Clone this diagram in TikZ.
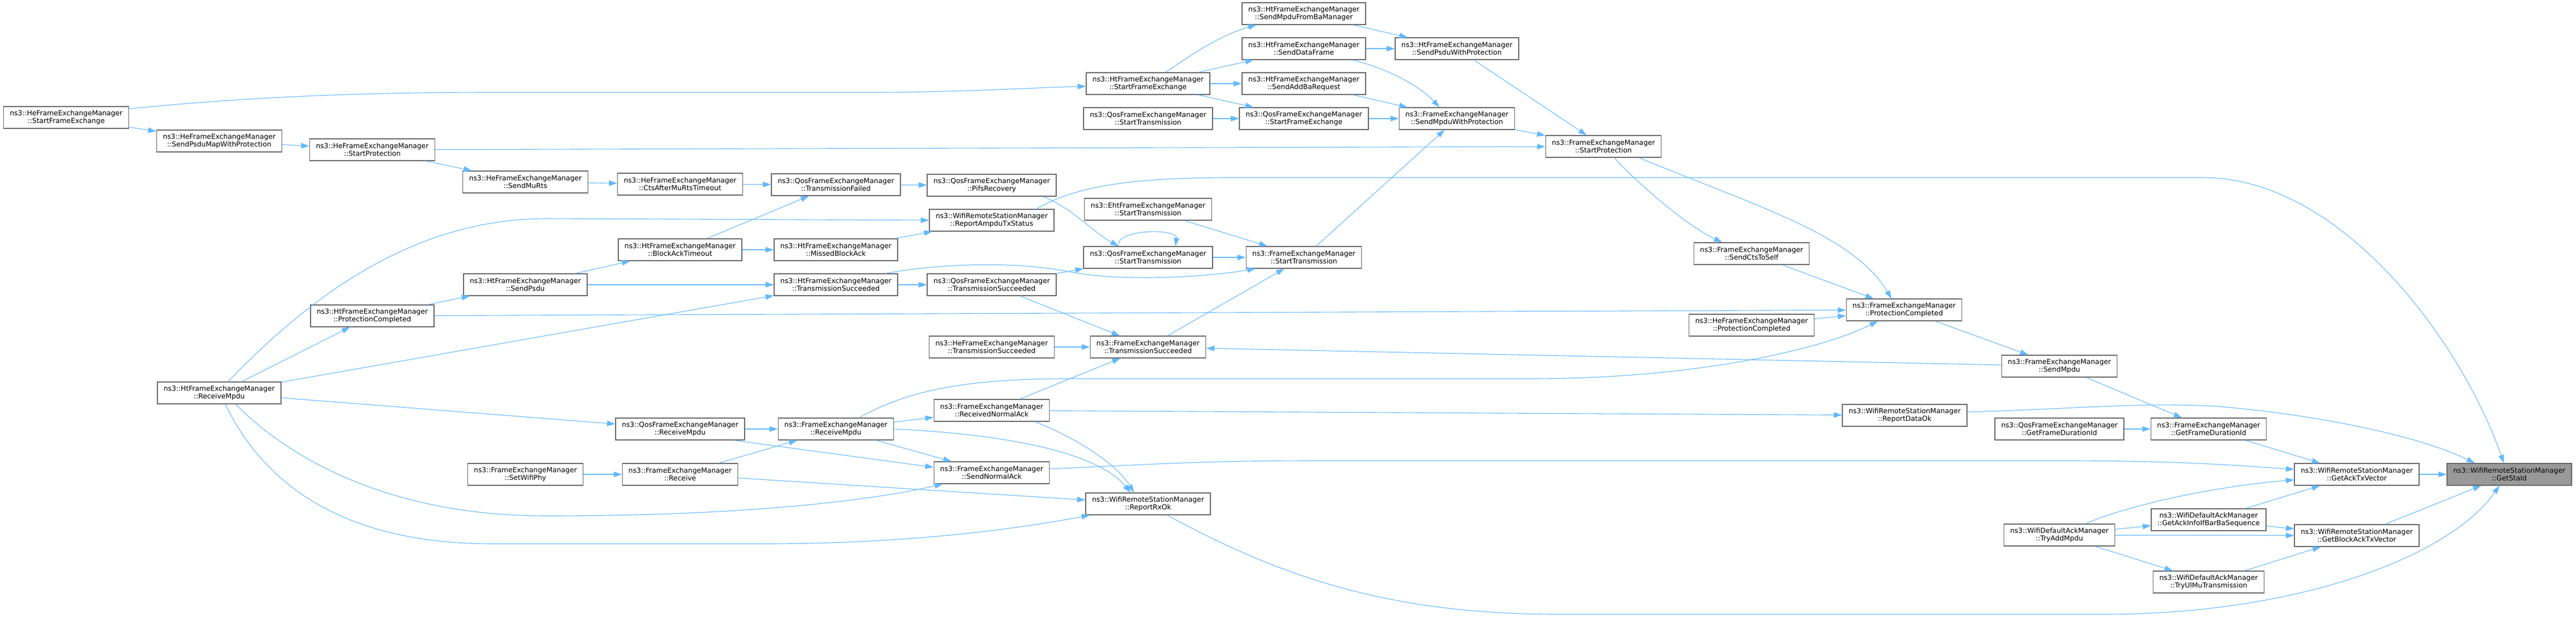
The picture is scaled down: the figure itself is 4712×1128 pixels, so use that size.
\documentclass[tikz,border=0pt]{standalone}
\usepackage{fontspec}
\setmainfont{DejaVu Sans}
\usetikzlibrary{arrows.meta}
\definecolor{edgeblue}{HTML}{63B8FF}
\definecolor{boxgray}{HTML}{666666}
\definecolor{rootgray}{HTML}{999999}
\tikzset{%
        ->,
        >={Triangle[length=15pt,width=10pt]}
}
\tikzstyle{func}=[
    draw = boxgray,
    fill = white,
    line width = 1.3pt,
    minimum height = 40pt,
    inner xsep = 11.5pt,
    inner ysep = 1pt,
    align = center,
    font = \fontsize{12.7pt}{14.3pt}\selectfont
]
\tikzstyle{every edge}=[
    draw = edgeblue,
    line width = 1.1pt
]
\tikzstyle{call}=[
    draw = edgeblue,
    line width = 1.1pt
]
\begin{document}
\begin{tikzpicture}[x=1pt, y=-1pt]
            \useasboundingbox (0,0) rectangle (4712,1128);
            \node[func] (heSFE) at (121, 215) {ns3::HeFrameExchangeManager\\::StartFrameExchange};
            \node[func] (heSPMWP) at (401, 258) {ns3::HeFrameExchangeManager\\::SendPsduMapWithProtection};
            \node[func] (htRM) at (401, 719) {ns3::HtFrameExchangeManager\\::ReceiveMpdu};
            \node[func] (heSP) at (681, 274) {ns3::HeFrameExchangeManager\\::StartProtection};
            \node[func] (htPC) at (681, 578) {ns3::HtFrameExchangeManager\\::ProtectionCompleted};
            \node[func] (heSMR) at (961, 333) {ns3::HeFrameExchangeManager\\::SendMuRts};
            \node[func] (htSP) at (961, 521) {ns3::HtFrameExchangeManager\\::SendPsdu};
            \node[func] (fSWP) at (961, 868) {ns3::FrameExchangeManager\\::SetWifiPhy};
            \node[func] (heCAMRT) at (1244, 337) {ns3::HeFrameExchangeManager\\::CtsAfterMuRtsTimeout};
            \node[func] (htBAT) at (1244, 457) {ns3::HtFrameExchangeManager\\::BlockAckTimeout};
            \node[func] (qRM) at (1244, 785) {ns3::QosFrameExchangeManager\\::ReceiveMpdu};
            \node[func] (fRecv) at (1244, 868) {ns3::FrameExchangeManager\\::Receive};
            \node[func] (qTF) at (1529, 338) {ns3::QosFrameExchangeManager\\::TransmissionFailed};
            \node[func] (htMBA) at (1529, 457) {ns3::HtFrameExchangeManager\\::MissedBlockAck};
            \node[func] (htTS) at (1529, 521) {ns3::HtFrameExchangeManager\\::TransmissionSucceeded};
            \node[func] (fRM) at (1529, 785) {ns3::FrameExchangeManager\\::ReceiveMpdu};
            \node[func] (qPR) at (1814, 339) {ns3::QosFrameExchangeManager\\::PifsRecovery};
            \node[func] (wRATS) at (1814, 403) {ns3::WifiRemoteStationManager\\::ReportAmpduTxStatus};
            \node[func] (qTS) at (1814, 521) {ns3::QosFrameExchangeManager\\::TransmissionSucceeded};
            \node[func] (heTS) at (1814, 635) {ns3::HeFrameExchangeManager\\::TransmissionSucceeded};
            \node[func] (fRNA) at (1814, 751) {ns3::FrameExchangeManager\\::ReceivedNormalAck};
            \node[func] (fSNA) at (1814, 865) {ns3::FrameExchangeManager\\::SendNormalAck};
            \node[func] (htSFE) at (2100, 153) {ns3::HtFrameExchangeManager\\::StartFrameExchange};
            \node[func] (qST) at (2100, 217) {ns3::QosFrameExchangeManager\\::StartTransmission};
            \node[func] (ehtST) at (2100, 383) {ns3::EhtFrameExchangeManager\\::StartTransmission};
            \node[func] (qSTb) at (2100, 471) {ns3::QosFrameExchangeManager\\::StartTransmission};
            \node[func] (fTS) at (2100, 635) {ns3::FrameExchangeManager\\::TransmissionSucceeded};
            \node[func] (wRRO) at (2100, 922) {ns3::WifiRemoteStationManager\\::ReportRxOk};
            \node[func] (htSMFBM) at (2385, 25) {ns3::HtFrameExchangeManager\\::SendMpduFromBaManager};
            \node[func] (htSDF) at (2385, 89) {ns3::HtFrameExchangeManager\\::SendDataFrame};
            \node[func] (htSABR) at (2385, 153) {ns3::HtFrameExchangeManager\\::SendAddBaRequest};
            \node[func] (qSFE) at (2385, 217) {ns3::QosFrameExchangeManager\\::StartFrameExchange};
            \node[func] (fST) at (2385, 471) {ns3::FrameExchangeManager\\::StartTransmission};
            \node[func] (htSPWP) at (2665, 89) {ns3::HtFrameExchangeManager\\::SendPsduWithProtection};
            \node[func] (fSMWP) at (2665, 217) {ns3::FrameExchangeManager\\::SendMpduWithProtection};
            \node[func] (fSP) at (2933, 268) {ns3::FrameExchangeManager\\::StartProtection};
            \node[func] (fSCTS) at (3204, 464) {ns3::FrameExchangeManager\\::SendCtsToSelf};
            \node[func] (hePC) at (3204, 595) {ns3::HeFrameExchangeManager\\::ProtectionCompleted};
            \node[func] (fPC) at (3483, 567) {ns3::FrameExchangeManager\\::ProtectionCompleted};
            \node[func] (wRDO) at (3484, 760) {ns3::WifiRemoteStationManager\\::ReportDataOk};
            \node[func] (fSM) at (3767, 670) {ns3::FrameExchangeManager\\::SendMpdu};
            \node[func] (qGFD) at (3767, 785) {ns3::QosFrameExchangeManager\\::GetFrameDurationId};
            \node[func] (dTAM) at (3767, 979) {ns3::WifiDefaultAckManager\\::TryAddMpdu};
            \node[func] (fGFD) at (4040, 785) {ns3::FrameExchangeManager\\::GetFrameDurationId};
            \node[func] (dGAI) at (4040, 951) {ns3::WifiDefaultAckManager\\::GetAckInfoIfBarBaSequence};
            \node[func] (dTUM) at (4040, 1065) {ns3::WifiDefaultAckManager\\::TryUlMuTransmission};
            \node[func] (wGATV) at (4311, 868) {ns3::WifiRemoteStationManager\\::GetAckTxVector};
            \node[func] (wGBATV) at (4311, 980) {ns3::WifiRemoteStationManager\\::GetBlockAckTxVector};
            \node[func, fill=rootgray] (wGSI) at (4590, 868) {ns3::WifiRemoteStationManager\\::GetStaId};
            \path
                (heSFE) edge (heSPMWP)
                (heSPMWP) edge (heSP)
                (heSP) edge (fSP)
                (heSP) edge (heSMR)
                (heSMR) edge (heCAMRT)
                (heCAMRT) edge (qTF)
                (qTF) edge (qPR)
                (htBAT) edge (qTF)
                (htSP) edge (htBAT)
                (htBAT) edge (htMBA)
                (htMBA) edge (wRATS)
                (htSP) edge (htTS)
                (htPC) edge (htSP)
                (htPC) edge (fPC)
                (htRM) edge (htPC)
                (htRM) edge (htTS)
                (htRM) edge (qRM)
                (htTS) edge (qTS)
                (qRM) edge (fRM)
                ([xshift=-20pt]qRM.south east) edge ([yshift=10pt]fSNA.west)
                (fSWP) edge (fRecv)
                (fRecv) edge (fRM)
                (fRecv) edge (wRRO)
                (fRM) edge (fRNA)
                (fRM) edge (fSNA)
                (qTS) edge (qSTb)
                (qTS) edge (fTS)
                (heTS) edge (fTS)
                (fRNA) edge (fTS)
                (fRNA) edge (wRDO)
                (htSFE) edge (htSDF)
                (htSFE) edge (htSABR)
                (htSFE) edge (qSFE)
                (qST) edge (qSFE)
                (ehtST) edge (fST)
                (qSTb) edge (fST)
                (fTS) edge (fST)
                (htSMFBM) edge (htSPWP)
                (htSDF) edge (htSPWP)
                (htSABR) edge (fSMWP)
                (qSFE) edge (fSMWP)
                (fST) edge (fSMWP)
                (htSPWP) edge (fSP)
                (fSMWP) edge (fSP)
                (fSCTS) edge (fPC)
                (hePC) edge (fPC)
                (fPC) edge (fSM)
                (fSM) edge (fTS)
                (fSM) edge (fGFD)
                (qGFD) edge (fGFD)
                (fGFD) edge (wGATV)
                (wGATV) edge (wGSI)
                (dTAM) edge (dGAI)
                (dTAM) edge (wGBATV)
                (dTAM) edge (dTUM)
                (dGAI) edge (wGATV)
                (dGAI) edge (wGBATV)
                (dTUM) edge (wGBATV)
                (wGBATV) edge (wGSI)
                ;
            \draw[call] ([yshift=16pt]heSFE.east) .. controls (450,178) and (650,169) .. (900,169) -- (1600,169) .. controls (1750,169) and (1900,160) .. ([yshift=-5pt]htSFE.west);
            \draw[call] ([xshift=16pt]htRM.north) .. controls (560,550) and (750,400) .. (1000,400) -- (wRATS.west);
            \draw[call] ([xshift=30pt]htRM.south) .. controls (520,830) and (700,944) .. (1000,944) .. controls (1400,944) and (1620,910) .. ([xshift=17pt]fSNA.south west);
            \draw[call] ([xshift=11pt]htRM.south) .. controls (480,880) and (620,995) .. (900,995) -- (1400,995) .. controls (1650,995) and (1850,970) .. ([xshift=8pt]wRRO.south west);
            \draw[call] ([xshift=91pt]htTS.north) .. controls (1700,485) and (1850,475) .. (1960,498) .. controls (2050,515) and (2200,508) .. ([xshift=18pt]fST.south west);
            \draw[call] (fRM.east) .. controls (1850,795) and (2010,830) .. ([xshift=-32pt]wRRO.north);
            \draw[call] ([xshift=43pt]fRM.north) .. controls (1650,720) and (1750,693) .. (1950,693) -- (2800,693) .. controls (3100,693) and (3330,640) .. ([xshift=-48pt]fPC.south);
            \draw[call] ([xshift=94pt]qPR.south) .. controls (1960,380) and (2000,425) .. ([xshift=-54pt]qSTb.north);
            \draw[call] ([xshift=82pt]wRATS.north) .. controls (1960,345) and (2050,325) .. (2250,325) -- (4030,325) .. controls (4280,325) and (4500,620) .. ([xshift=-10pt]wGSI.north);
            \draw[call] ([xshift=79pt]fRNA.south) .. controls (1990,810) and (2050,860) .. ([xshift=-26pt]wRRO.north);
            \draw[call] ([yshift=7pt]fSNA.east) .. controls (2100,850) and (2200,843) .. (2400,843) -- (3800,843) .. controls (4000,844) and (4100,852) .. ([yshift=9pt]wGATV.west);
            \draw[call] ([xshift=32pt]htSFE.north) .. controls (2180,100) and (2230,65) .. ([xshift=-87pt]htSMFBM.south);
            \draw[call] ([xshift=88pt]htSDF.south) .. controls (2520,120) and (2590,150) .. ([xshift=-32pt]fSMWP.north);
            \draw[call] ([xshift=-54pt]qSTb.north) .. controls (2040,418) and (2155,418) .. ([xshift=50pt]qSTb.north);
            \draw[call] ([xshift=35pt]wRRO.south) .. controls (2350,1060) and (2550,1124) .. (2850,1124) -- (3850,1124) .. controls (4200,1124) and (4480,1020) .. ([xshift=-18pt]wGSI.south);
            \draw[call] ([xshift=20pt]fSP.south) .. controls (2990,330) and (3080,410) .. ([xshift=-54pt]fSCTS.north);
            \draw[call] ([xshift=65pt]fSP.south) .. controls (3220,380) and (3390,430) .. ([xshift=-23pt]fPC.north);
            \draw[call] ([yshift=6pt]wRDO.east) .. controls (3800,748) and (3930,735) .. (4060,744) .. controls (4250,760) and (4430,800) .. ([xshift=-63pt]wGSI.north);
            \draw[call] ([xshift=48pt]dTAM.north) .. controls (3890,925) and (4050,890) .. ([yshift=-10pt]wGATV.west);
        \end{tikzpicture}
\end{document}
